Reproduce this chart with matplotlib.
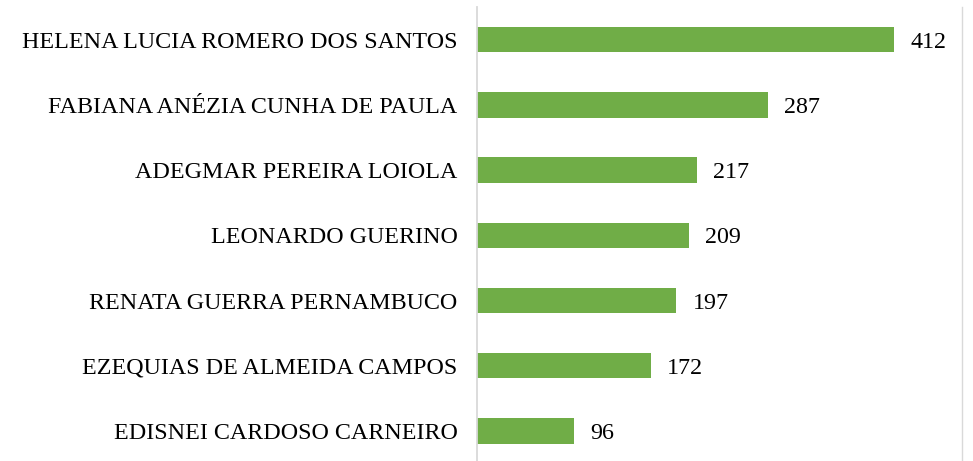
import matplotlib
matplotlib.use('Agg')
import matplotlib.pyplot as plt

matplotlib.rcParams['font.family'] = ['Liberation Serif', 'DejaVu Serif']

# dados
nomes = ['HELENA LUCIA ROMERO DOS SANTOS', 'FABIANA ANÉZIA CUNHA DE PAULA',
         'ADEGMAR PEREIRA LOIOLA', 'LEONARDO GUERINO',
         'RENATA GUERRA PERNAMBUCO', 'EZEQUIAS DE ALMEIDA CAMPOS',
         'EDISNEI CARDOSO CARNEIRO']
valores = [412, 287, 217, 209, 197, 172, 96]

fig = plt.figure(figsize=(9.73, 4.61), dpi=100)
ax = fig.add_axes([477/973, -2.6/461, (962-477)/973, (461-7+2.6)/461])

pos = list(range(len(nomes)))[::-1]
barras = ax.barh(pos, valores, height=0.39, color='#70AD47')

for p, v in zip(pos, valores):
    ax.text(v + 16, p - 0.04, str(v), va='center', ha='left', fontsize=17.3, color='black')

ax.set_yticks(pos)
ax.set_yticklabels(nomes, fontsize=17.3)
ax.tick_params(axis='y', length=0, pad=14)
ax.set_xticks([])
ax.set_xlim(0, 479)
ax.set_ylim(-0.5, 6.5)

for s in ['top', 'bottom']:
    ax.spines[s].set_visible(False)
ax.spines['left'].set_color('#D9D9D9')
ax.spines['left'].set_linewidth(1.3)
ax.spines['right'].set_color('#D9D9D9')
ax.spines['right'].set_linewidth(1.0)

fig.savefig('out.png', dpi=100)
